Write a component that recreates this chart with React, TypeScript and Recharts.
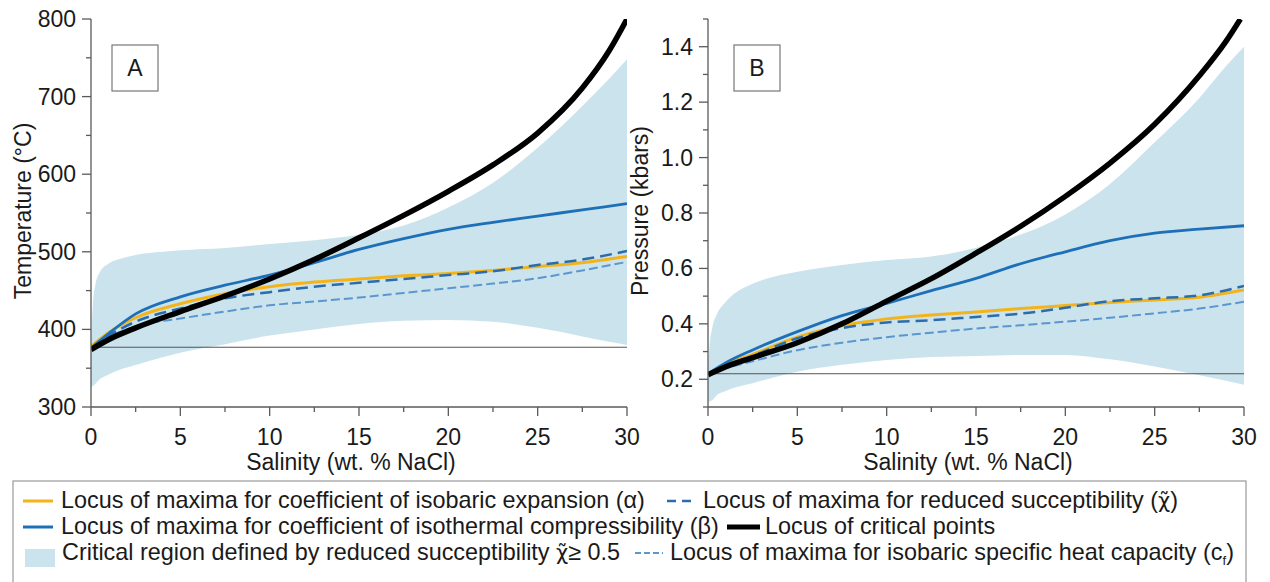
import React from "react";
import { ComposedChart, Line, Area, XAxis, YAxis, ReferenceLine } from "recharts";

const FONT = '"Liberation Sans", Arial, Helvetica, sans-serif';
const FRAME = "#5a5a5a";
const SHADE = "#cbe3ec";
const YELLOW = "#f3b41b";
const BLUE = "#1d6fb8";
const DASH_BLUE = "#2b6dac";
const LIGHT_BLUE = "#5b97cf";

// salinity grids (wt. % NaCl)
const salinity = [0, 1, 2.5, 5, 7.5, 10, 12.5, 15, 17.5, 20, 22.5, 25, 27.5, 30];
const critSalA = [0, 1, 2.5, 5, 7.5, 10, 12.5, 15, 17.5, 20, 22.5, 25, 27.5, 29, 30];
const critSalB = [0, 1, 2.5, 5, 7.5, 10, 12.5, 15, 17.5, 20, 22.5, 25, 27.5, 29, 29.8];
const shadeSal = [0, 0.1, 0.25, 0.5, 1, 1.5, 2.5, 4, 5, 7.5, 10, 12.5, 15, 17.5, 20, 22.5, 25, 27.5, 29, 30];
const salTicks = [0, 2.5, 5, 7.5, 10, 12.5, 15, 17.5, 20, 22.5, 25, 27.5, 30];
const salLabels = [0, 5, 10, 15, 20, 25, 30];

// panel A - temperature (°C)
const tempAlpha = [378, 396, 415, 433, 446, 455, 461, 465, 469, 472, 476, 481, 486, 494];
const tempBeta = [376, 395, 420, 442, 457, 470, 486, 503, 517, 529, 538, 546, 554, 562];
const tempChi = [376, 392, 410, 427, 440, 448, 455, 460, 465, 470, 475, 483, 490, 501];
const tempCp = [376, 390, 404, 414, 423, 431, 436, 441, 447, 453, 459, 466, 476, 487];
const tempCrit = [374, 387, 402, 423, 443, 465, 490, 518, 547, 578, 612, 653, 711, 759, 800];
const tempHigh = [380, 430, 458, 474, 485, 490, 496, 500, 502, 505, 510, 515, 522, 534, 557, 589, 634, 688, 723, 748];
const tempLow = [325, 327, 330, 336, 342, 347, 354, 364, 370, 381, 392, 400, 407, 411, 412, 410, 402, 391, 384, 380];
const tempTicks = [300, 350, 400, 450, 500, 550, 600, 650, 700, 750, 800];
const tempLabels = [300, 400, 500, 600, 700, 800];

// panel B - pressure (kbars)
const presAlpha = [0.22, 0.255, 0.29, 0.352, 0.393, 0.418, 0.432, 0.443, 0.455, 0.466, 0.477, 0.486, 0.496, 0.522];
const presBeta = [0.22, 0.26, 0.306, 0.372, 0.43, 0.474, 0.52, 0.564, 0.617, 0.66, 0.7, 0.727, 0.742, 0.754];
const presChi = [0.22, 0.25, 0.285, 0.348, 0.385, 0.405, 0.413, 0.425, 0.437, 0.458, 0.482, 0.492, 0.503, 0.537];
const presCp = [0.22, 0.24, 0.265, 0.305, 0.332, 0.352, 0.368, 0.383, 0.395, 0.408, 0.422, 0.438, 0.455, 0.48];
const presCrit = [0.216, 0.245, 0.278, 0.332, 0.4, 0.482, 0.563, 0.655, 0.752, 0.86, 0.98, 1.12, 1.295, 1.42, 1.5];
const presHigh = [0.25, 0.33, 0.39, 0.435, 0.48, 0.51, 0.545, 0.575, 0.588, 0.612, 0.63, 0.643, 0.675, 0.722, 0.795, 0.905, 1.055, 1.215, 1.33, 1.4];
const presLow = [0.118, 0.12, 0.125, 0.143, 0.158, 0.17, 0.186, 0.212, 0.227, 0.252, 0.27, 0.28, 0.284, 0.288, 0.288, 0.272, 0.246, 0.215, 0.195, 0.18];
const presTicks = [0.1, 0.2, 0.3, 0.4, 0.5, 0.6, 0.7, 0.8, 0.9, 1.0, 1.1, 1.2, 1.3, 1.4, 1.5];
const presLabels = [0.2, 0.4, 0.6, 0.8, 1.0, 1.2, 1.4];

const pts = (xs: number[], ys: number[]) => xs.map((s, i) => ({ s, v: ys[i] }));

function FrameTick(props: any) {
  const { x, y, payload, side, labels, digits } = props;
  const v = payload.value;
  const major = labels.some((l: number) => Math.abs(l - v) < 1e-9);
  const len = major ? 9 : 5;
  const txt = major ? Number(v).toFixed(digits) : null;
  const ts = { fontFamily: FONT, fontSize: 23, fill: "#1a1a1a" };
  if (side === "bottom") {
    return (
      <g>
        <line x1={x} y1={y} x2={x} y2={y + len} stroke={FRAME} strokeWidth={1.3} />
        {txt && <text x={x} y={y + 38} textAnchor="middle" {...ts}>{txt}</text>}
      </g>
    );
  }
  if (side === "top") {
    return <line x1={x} y1={y} x2={x} y2={y + len} stroke={FRAME} strokeWidth={1.3} />;
  }
  if (side === "left") {
    return (
      <g>
        <line x1={x - len} y1={y} x2={x} y2={y} stroke={FRAME} strokeWidth={1.3} />
        {txt && <text x={x - 15} y={y + 8} textAnchor="end" {...ts}>{txt}</text>}
      </g>
    );
  }
  return <line x1={x - len} y1={y} x2={x} y2={y} stroke={FRAME} strokeWidth={1.3} />;
}

type PanelProps = {
  letter: string;
  boxX: number;
  yTitle: string;
  yDomain: [number, number];
  yTicks: number[];
  yLabels: number[];
  digits: number;
  refY: number;
  alpha: number[];
  beta: number[];
  chi: number[];
  cp: number[];
  crit: number[];
  critSal: number[];
  high: number[];
  low: number[];
};

function Panel(p: PanelProps) {
  const shade = shadeSal.map((s, i) => ({ s, range: [p.low[i], p.high[i]] }));
  const axisLine = { stroke: FRAME, strokeWidth: 1.3 };
  return (
    <ComposedChart width={640} height={480} data={shade} margin={{ top: 19, right: 13, left: 0, bottom: 0 }}>
      <XAxis
        xAxisId="b"
        dataKey="s"
        type="number"
        domain={[0, 30]}
        allowDataOverflow
        ticks={salTicks}
        interval={0}
        height={73}
        tickSize={0}
        tickMargin={0}
        tickLine={false}
        axisLine={axisLine}
        tick={(t: any) => <FrameTick {...t} side="bottom" labels={salLabels} digits={0} />}
      />
      <XAxis
        xAxisId="t"
        orientation="top"
        type="number"
        domain={[0, 30]}
        allowDataOverflow
        ticks={salTicks}
        interval={0}
        height={0}
        tickSize={0}
        tickMargin={0}
        tickLine={false}
        axisLine={axisLine}
        tick={(t: any) => <FrameTick {...t} side="top" labels={salLabels} digits={0} />}
      />
      <YAxis
        yAxisId="l"
        type="number"
        domain={p.yDomain}
        allowDataOverflow
        ticks={p.yTicks}
        interval={0}
        width={91}
        tickSize={0}
        tickMargin={0}
        tickLine={false}
        axisLine={axisLine}
        tick={(t: any) => <FrameTick {...t} side="left" labels={p.yLabels} digits={p.digits} />}
      />
      <YAxis
        yAxisId="r"
        orientation="right"
        type="number"
        domain={p.yDomain}
        allowDataOverflow
        ticks={p.yTicks}
        interval={0}
        width={0}
        tickSize={0}
        tickMargin={0}
        tickLine={false}
        axisLine={axisLine}
        tick={(t: any) => <FrameTick {...t} side="right" labels={p.yLabels} digits={p.digits} />}
      />
      <Area
        xAxisId="b"
        yAxisId="l"
        dataKey="range"
        type="monotone"
        fill={SHADE}
        fillOpacity={1}
        stroke="none"
        isAnimationActive={false}
      />
      <ReferenceLine xAxisId="b" yAxisId="l" y={p.refY} stroke="#555" strokeWidth={1} />
      <Line xAxisId="b" yAxisId="l" data={pts(salinity, p.cp)} dataKey="v" type="monotone" stroke={LIGHT_BLUE} strokeWidth={2} strokeDasharray="9 4" dot={false} isAnimationActive={false} />
      <Line xAxisId="b" yAxisId="l" data={pts(salinity, p.alpha)} dataKey="v" type="monotone" stroke={YELLOW} strokeWidth={3} dot={false} isAnimationActive={false} />
      <Line xAxisId="b" yAxisId="l" data={pts(salinity, p.chi)} dataKey="v" type="monotone" stroke={DASH_BLUE} strokeWidth={2.5} strokeDasharray="12 6" dot={false} isAnimationActive={false} />
      <Line xAxisId="b" yAxisId="l" data={pts(salinity, p.beta)} dataKey="v" type="monotone" stroke={BLUE} strokeWidth={2.8} dot={false} isAnimationActive={false} />
      <Line xAxisId="b" yAxisId="l" data={pts(p.critSal, p.crit)} dataKey="v" type="monotone" stroke="#000" strokeWidth={5.5} dot={false} isAnimationActive={false} />
      <rect x={p.boxX} y={45} width={46} height={46} fill="#fff" stroke="#777" strokeWidth={1.2} />
      <text x={p.boxX + 23} y={76} textAnchor="middle" fontFamily={FONT} fontSize={23} fill="#1a1a1a">{p.letter}</text>
      <text transform="rotate(-90 23 211)" x={23} y={219} textAnchor="middle" fontFamily={FONT} fontSize={23} fill="#1a1a1a">{p.yTitle}</text>
      <text x={351} y={470} textAnchor="middle" fontFamily={FONT} fontSize={23} fill="#1a1a1a">Salinity (wt. % NaCl)</text>
    </ComposedChart>
  );
}

// chi with combining tilde, set in DejaVu which places the mark properly
const chiT = <tspan fontFamily='"DejaVu Sans", sans-serif' fontSize={21}>{"\u03C7\u0303"}</tspan>;

function Legend() {
  const ts = { fontFamily: FONT, fontSize: 23.4, fill: "#1a1a1a" };
  return (
    <svg width={1270} height={104} style={{ position: "absolute", left: 0, top: 478 }}>
      <rect x={13} y={3} width={1233} height={110} fill="#fff" stroke="#999" strokeWidth={1.2} />
      <line x1={23} x2={53} y1={23} y2={23} stroke={YELLOW} strokeWidth={3} />
      <text x={61} y={30} {...ts}>Locus of maxima for coefficient of isobaric expansion (α)</text>
      <line x1={667} x2={697} y1={23} y2={23} stroke={DASH_BLUE} strokeWidth={2.5} strokeDasharray="9 6" />
      <text x={703} y={30} {...ts}>Locus of maxima for reduced succeptibility ({chiT})</text>
      <line x1={23} x2={53} y1={49} y2={49} stroke={BLUE} strokeWidth={3} />
      <text x={61} y={56} {...ts}>Locus of maxima for coefficient of isothermal compressibility (β)</text>
      <line x1={727} x2={760} y1={49} y2={49} stroke="#000" strokeWidth={5} />
      <text x={765} y={56} {...ts}>Locus of critical points</text>
      <rect x={25} y={71} width={30} height={18} fill={SHADE} />
      <text x={62} y={82} {...ts}>Critical region defined by reduced succeptibility {chiT}≥ 0.5</text>
      <line x1={635} x2={663} y1={75} y2={75} stroke={LIGHT_BLUE} strokeWidth={2} strokeDasharray="6 3" />
      <text x={670} y={82} {...ts}>
        Locus of maxima for isobaric specific heat capacity (c<tspan fontSize={13} dy={5}>f</tspan><tspan dy={-5}>)</tspan>
      </text>
    </svg>
  );
}

export default function App() {
  return (
    <div style={{ position: "absolute", left: 0, top: 0, width: 1270, height: 582, background: "#fff", overflow: "hidden" }}>
      <div style={{ position: "absolute", left: 0, top: 0 }}>
        <Panel
          letter="A"
          boxX={112}
          yTitle="Temperature (°C)"
          yDomain={[300, 800]}
          yTicks={tempTicks}
          yLabels={tempLabels}
          digits={0}
          refY={377}
          alpha={tempAlpha}
          beta={tempBeta}
          chi={tempChi}
          cp={tempCp}
          crit={tempCrit}
          critSal={critSalA}
          high={tempHigh}
          low={tempLow}
        />
      </div>
      <div style={{ position: "absolute", left: 617, top: 0 }}>
        <Panel
          letter="B"
          boxX={117}
          yTitle="Pressure (kbars)"
          yDomain={[0.1, 1.5]}
          yTicks={presTicks}
          yLabels={presLabels}
          digits={1}
          refY={0.22}
          alpha={presAlpha}
          beta={presBeta}
          chi={presChi}
          cp={presCp}
          crit={presCrit}
          critSal={critSalB}
          high={presHigh}
          low={presLow}
        />
      </div>
      <Legend />
    </div>
  );
}
